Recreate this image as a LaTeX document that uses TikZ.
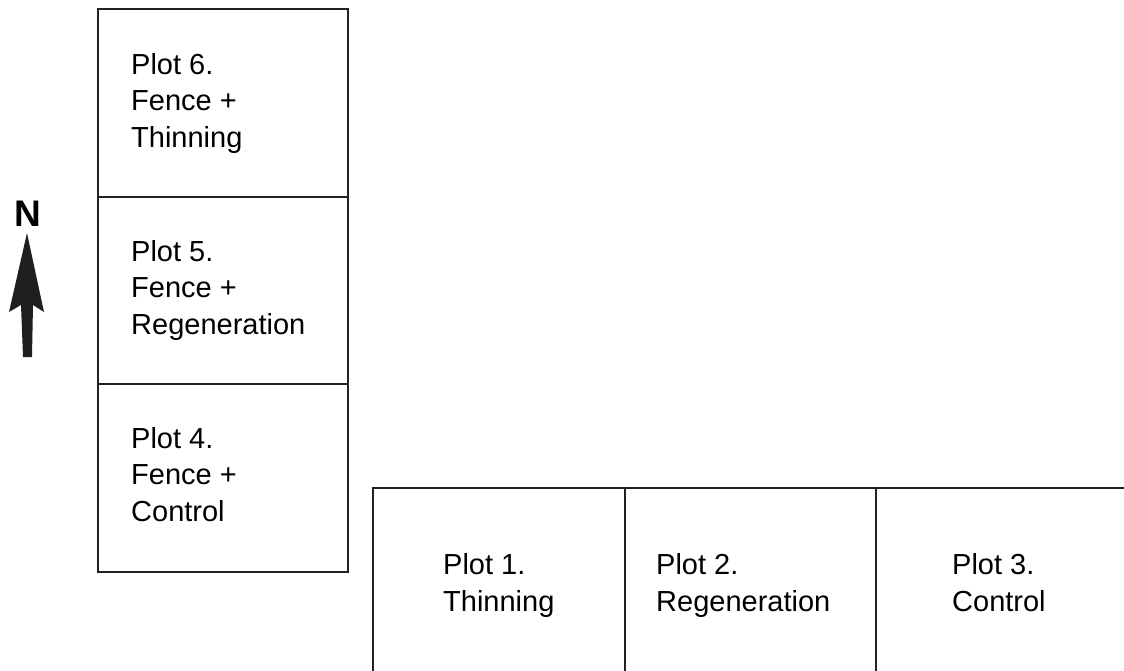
\documentclass[tikz,border=0pt]{standalone}
\usepackage{fontspec}
\setmainfont{Liberation Sans}
\begin{document}
\begin{tikzpicture}[x=1pt,y=-1pt,
  plotline/.style={draw=black!87, line width=2.2pt},
  plotlabel/.style={anchor=base west, inner sep=0pt, font=\fontsize{29}{36.5}\selectfont, align=left},
  arrowfill/.style={fill=black!88, draw=none}]
\useasboundingbox (0,0) rectangle (1124,670);

% fenced column (plots 6, 5, 4)
\draw[plotline] (98,9) rectangle (348,572);
\draw[plotline] (98,197) -- (348,197);
\draw[plotline] (98,384) -- (348,384);

% open row (plots 1, 2, 3), running off the sheet to the right and below
\draw[plotline] (373,680) -- (373,488) -- (1130,488);
\draw[plotline] (625,488) -- (625,680);
\draw[plotline] (876,488) -- (876,680);

% plot labels (anchored at the baseline of the last line)
\node[plotlabel] (p6) at (131,147) {Plot 6.\\Fence +\\Thinning};
\node[plotlabel] (p5) at (131,334) {Plot 5.\\Fence +\\Regeneration};
\node[plotlabel] (p4) at (131,521) {Plot 4.\\Fence +\\Control};
\node[plotlabel] (p1) at (443,611) {Plot 1.\\Thinning};
\node[plotlabel] (p2) at (656,611) {Plot 2.\\Regeneration};
\node[plotlabel] (p3) at (952,611) {Plot 3.\\Control};

% north arrow
\node[inner sep=0pt, font=\bfseries\fontsize{37}{37}\selectfont] (north) at (28,214) {N};
\fill[arrowfill] (27,233) -- (44,312) -- (33,305) -- (32,357) -- (23,357) -- (21,305) -- (9,312) -- cycle;
\end{tikzpicture}
\end{document}
